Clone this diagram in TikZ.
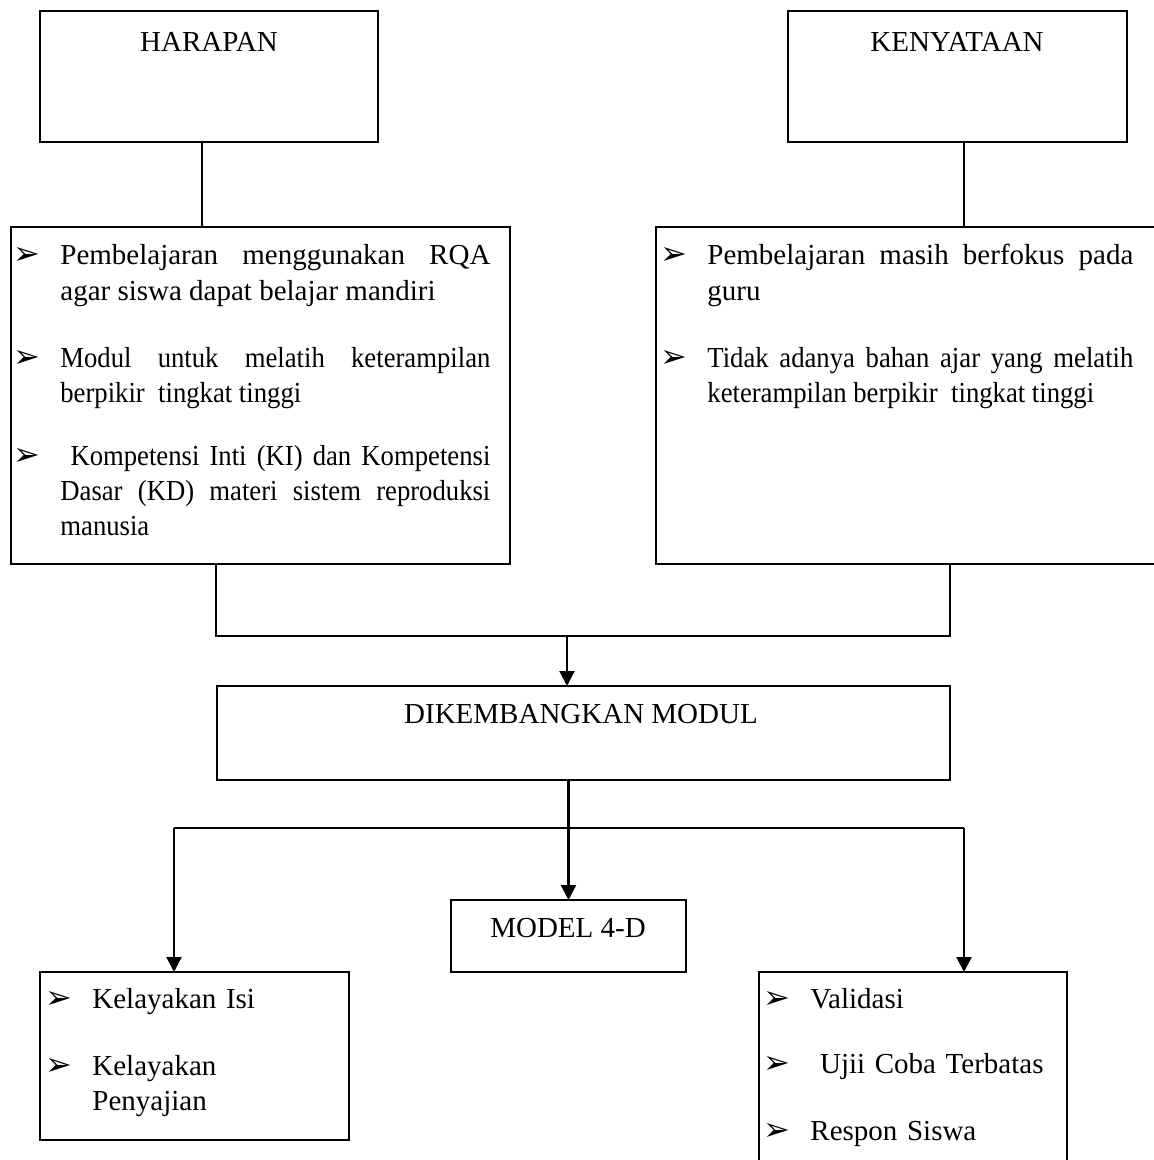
\documentclass[tikz,border=0pt]{standalone}
\usepackage{fontspec}
\setmainfont{Liberation Serif}
\newfontfamily\narrowfont[FakeStretch=0.92]{Liberation Serif}
\newfontfamily\bulletfont{DejaVu Sans}
\usepackage{tikz}
\usetikzlibrary{arrows.meta, positioning}

\newcommand{\boxfont}{\fontsize{14.5pt}{17.5pt}\selectfont}
\newcommand{\blt}[1]{\hangindent=23.5pt\hangafter=1\makebox[23.5pt][l]{\bulletfont\fontsize{16pt}{16pt}\selectfont ➢}#1\par}

\begin{document}
\begin{tikzpicture}[
    x=0.5pt, y=-0.5pt,
    framebox/.style={draw, line width=1.1pt, inner sep=0pt, outer sep=0pt, anchor=north west},
    titletext/.style={anchor=base, inner sep=0pt, font=\boxfont},
    entrytext/.style={anchor=base west, inner sep=0pt, align=justify, font=\boxfont},
    linkline/.style={line width=0.8pt},
    arrowline/.style={line width=1.1pt, -{Triangle[length=7.5pt, width=7.5pt]}}
]
\useasboundingbox (0,0) rectangle (1154,1160);

% top boxes
\node[framebox, minimum width=169pt, minimum height=65.5pt] (harapan) at (40,11) {};
\node[titletext] (harapantxt) at (209,52) {HARAPAN};
\node[framebox, minimum width=169.5pt, minimum height=65.5pt] (kenyataan) at (788,11) {};
\node[titletext] (kenyataantxt) at (957,52) {KENYATAAN};

% list boxes
\node[framebox, minimum width=249.5pt, minimum height=168.5pt] (harlist) at (11,227) {};
\node[entrytext, text width=238.5pt] (har1) at (13,265) {\blt{Pembelajaran menggunakan RQA\linebreak agar siswa dapat belajar mandiri}};
\node[entrytext, text width=238.5pt] (har2) at (13,367) {\narrowfont\blt{Modul untuk melatih keterampilan\linebreak berpikir\ \ tingkat tinggi}};
\node[entrytext, text width=238.5pt] (har3) at (13,465) {\narrowfont\blt{\ Kompetensi Inti (KI) dan Kompetensi\linebreak Dasar (KD) materi sistem reproduksi\linebreak manusia}};

\node[framebox, minimum width=255pt, minimum height=168.5pt] (kenlist) at (656,227) {};
\node[entrytext, text width=236.5pt] (ken1) at (660,265) {\blt{Pembelajaran masih berfokus pada\linebreak guru}};
\node[entrytext, text width=236.5pt] (ken2) at (660,367) {\narrowfont\blt{Tidak adanya bahan ajar yang melatih\linebreak keterampilan berpikir\ \ tingkat tinggi}};

% middle
\node[framebox, minimum width=366.5pt, minimum height=47pt] (modul) at (217,686) {};
\node[titletext] (modultxt) at (581,723) {DIKEMBANGKAN MODUL};
\node[framebox, minimum width=117.5pt, minimum height=36pt] (model) at (451,900) {};
\node[titletext] (modeltxt) at (568,937) {MODEL 4-D};

% bottom boxes
\node[framebox, minimum width=154.5pt, minimum height=84pt] (kelayakan) at (40,972) {};
\node[entrytext, text width=150pt, align=left] (kel1) at (45,1008) {\blt{Kelayakan Isi}};
\node[entrytext, text width=150pt, align=left] (kel2) at (45,1075) {\blt{Kelayakan\hfil\break Penyajian}};

\node[framebox, minimum width=154pt, minimum height=100pt] (validasi) at (759,972) {};
\node[entrytext, text width=150pt, align=left] (val1) at (763,1008) {\blt{Validasi}};
\node[entrytext, text width=150pt, align=left] (val2) at (763,1073) {\blt{\ Ujii Coba Terbatas}};
\node[entrytext, text width=150pt, align=left] (val3) at (763,1140) {\blt{Respon Siswa}};

% connectors
\coordinate (merge) at (567,636);
\coordinate (split) at (568,828);

\draw[linkline] ([xshift=-3.5pt]harapan.south) -- ([xshift=-3.5pt]harapan.south |- harlist.north);
\draw[linkline] ([xshift=3.25pt]kenyataan.south) -- ([xshift=3.25pt]kenyataan.south |- kenlist.north);
\draw[linkline] ([xshift=-22.25pt]harlist.south) |- (merge) -| ([xshift=19.5pt]kenlist.south);
\draw[arrowline] (merge) -- (merge |- modul.north);

\draw[arrowline] (modul.south -| model.north) -- (model.north);
\draw[linkline] ([xshift=-10.25pt]kelayakan.north |- split) -- ([xshift=25.5pt]validasi.north |- split);
\draw[arrowline] ([xshift=-10.25pt]kelayakan.north |- split) -- ([xshift=-10.25pt]kelayakan.north);
\draw[arrowline] ([xshift=25.5pt]validasi.north |- split) -- ([xshift=25.5pt]validasi.north);

\end{tikzpicture}
\end{document}
